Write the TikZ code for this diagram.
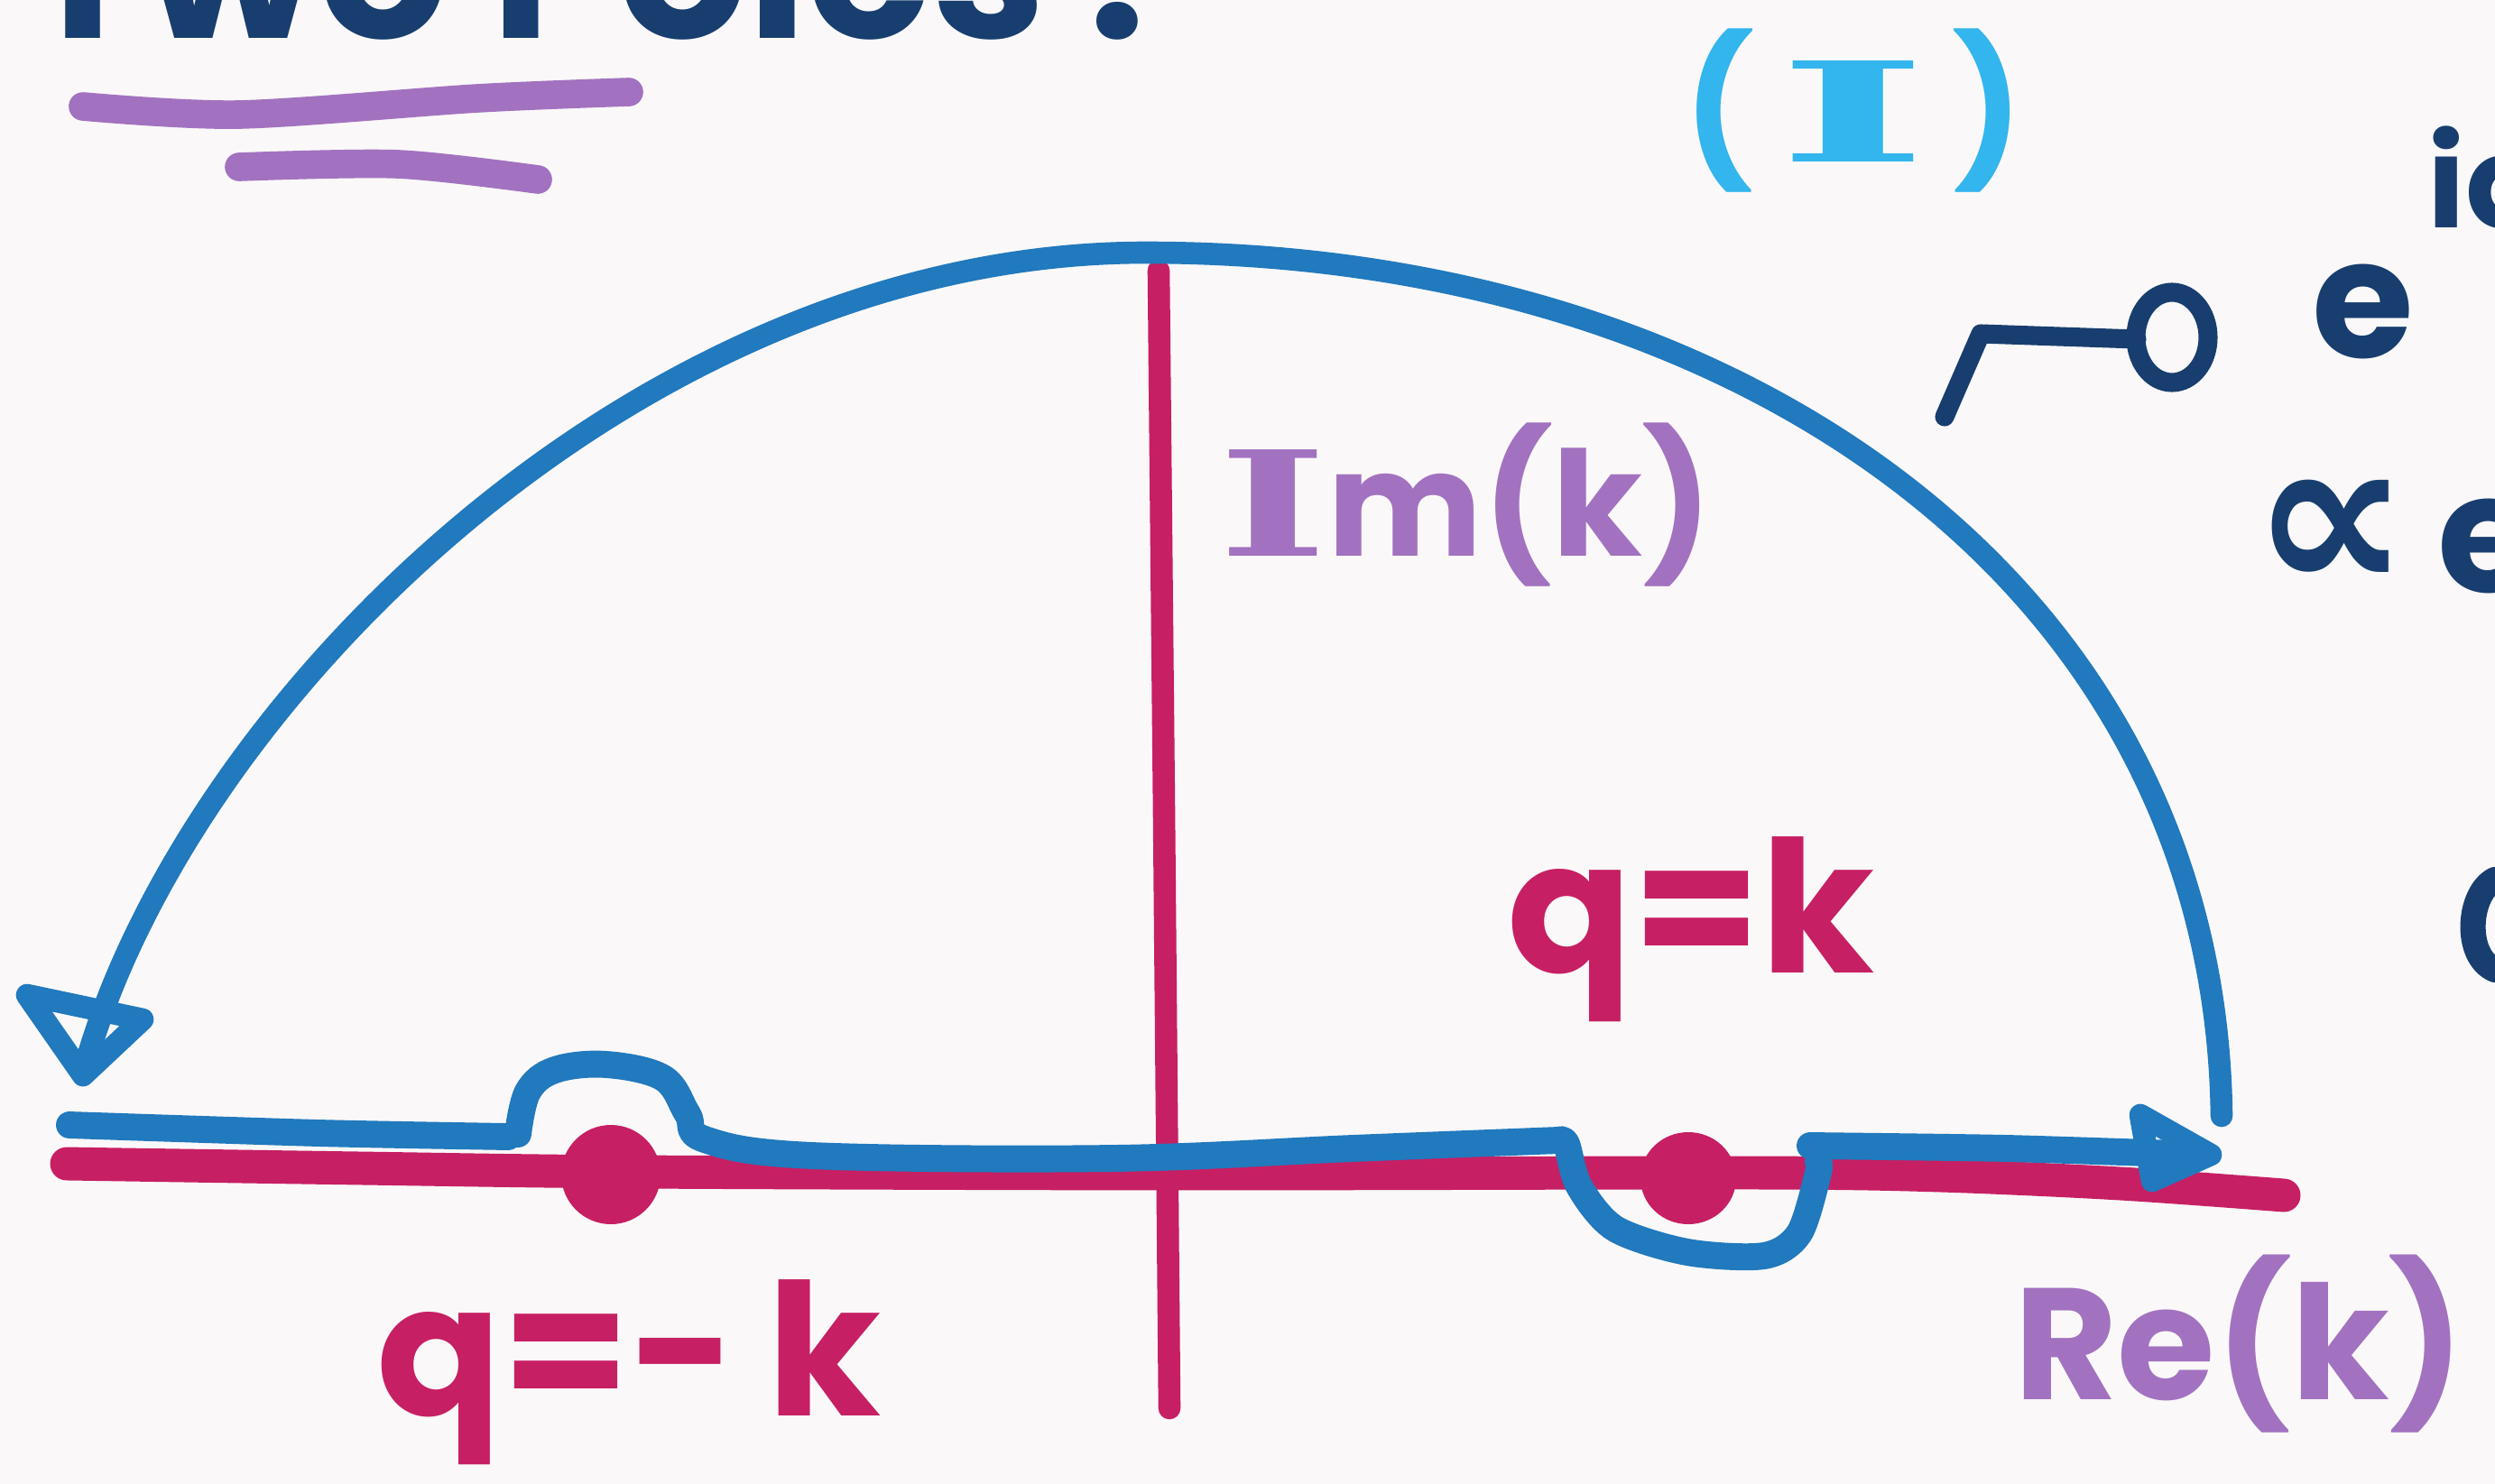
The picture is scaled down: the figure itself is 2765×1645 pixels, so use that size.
\documentclass[tikz,border=0pt]{standalone}
\usepackage{fontspec}
\setmainfont{Poppins}
\newfontfamily\dejavu{DejaVu Sans}
\newfontfamily\serifI{DejaVu Serif}
\definecolor{bgc}{HTML}{FAF8F8}
\definecolor{cblue}{HTML}{2179BE}
\definecolor{cred}{HTML}{C71F63}
\definecolor{cpurple}{HTML}{A272C0}
\definecolor{clight}{HTML}{33B5EE}
\definecolor{cnavy}{HTML}{183E6F}
\begin{document}
\begin{tikzpicture}[x=0.01cm,y=-0.01cm,line cap=round,line join=round,
  arcline/.style={cblue,line width=7pt},
  realline/.style={cblue,line width=8.5pt},
  haxis/.style={cred,line width=10.5pt},
  vaxis/.style={cred,line width=7pt},
  polept/.style={cred},
  tipbox/.style={cblue,line width=7pt},
  redlbl/.style={cred,inner sep=0pt,font=\bfseries\fontsize{58}{60}\selectfont},
  purlbl/.style={cpurple,inner sep=0pt,font=\bfseries\fontsize{50}{60}\selectfont},
  navylbl/.style={cnavy,inner sep=0pt,font=\bfseries\fontsize{52}{60}\selectfont},
  uline/.style={cpurple,line width=9pt}]
\useasboundingbox (0,0) rectangle (2765,1645);
\fill[bgc] (0,0) rectangle (2765,1645);
\clip (0,0) rectangle (2765,1645);

% title fragment and underlines
\node[navylbl,anchor=base west,font=\bfseries\fontsize{64}{70}\selectfont] (title) at (25,42) {Two Poles .};
\draw[uline] plot[smooth] coordinates {(92,118) (265,127) (529,109) (697,102)};
\draw[uline] plot[smooth] coordinates {(265,185) (441,182) (596,199)};

% axes
\draw[haxis] plot[smooth] coordinates {(74,1290) (400,1295) (706,1299) (1300,1301) (1940,1300) (2150,1303) (2350,1312) (2531,1325)};
\draw[vaxis] (1284,300) -- (1290,900) -- (1296,1561);

% poles
\fill[polept] (677,1302) ellipse [x radius=55, y radius=55];
\fill[polept] (1871,1306) ellipse [x radius=53, y radius=51];

% big semicircle arc
\draw[arcline] (2462,1237) .. controls (2455,650) and (1930,280) .. (1270,280)
               .. controls (700,280) and (200,790) .. (92,1190);
\draw[tipbox] (30,1103) -- (158,1130) -- (92,1192) -- cycle;

% real-axis path with indentations
\draw[realline] plot[smooth,tension=0.4] coordinates {(77,1247) (353,1256) (563,1260)};
\draw[realline] plot[smooth,tension=0.6] coordinates {(574,1257) (585,1210) (615,1186) (672,1180) (735,1195) (762,1235) (781,1263) (900,1281) (1234,1284) (1499,1273) (1727,1264)};
\draw[realline] plot[smooth,tension=0.5] coordinates {(1727,1264) (1736,1268) (1750,1315) (1790,1362) (1870,1388) (1955,1392) (1994,1367) (2015,1300) (2015,1288)};
\draw[realline] plot[smooth,tension=0.4] coordinates {(2006,1270) (2224,1273) (2440,1280)};
\draw[tipbox] (2372,1236) -- (2450,1280) -- (2385,1309) -- cycle;

% labels
\node[purlbl,anchor=west,font=\bfseries\fontsize{46}{50}\selectfont] (imk) at (1350,560) {{\serifI\scalebox{1.6}[1]{I}}m(k)};
\node[redlbl] (qk) at (1874,1030) {q=k};
\node[redlbl] (qmk) at (697,1521) {q=-\,k};
\node[purlbl] (rek) at (2482,1490) {Re(k)};
\node[clight,inner sep=0pt,font=\bfseries\fontsize{46}{50}\selectfont] (one) at (2054,123) {(\,{\serifI\scalebox{2.2}[0.95]{I}}\,)};

% right-side fragments
\draw[cnavy,line width=6pt] (2155,462) -- (2195,370) -- (2368,376);
\draw[cnavy,line width=6pt] (2407,374) ellipse [x radius=40, y radius=50];
\node[navylbl] (e1) at (2619,345) {e};
\node[navylbl,font=\bfseries\fontsize{40}{45}\selectfont,anchor=west] (ex1) at (2690,215) {iq};
\node[navylbl,anchor=west] (prop) at (2495,595) {{\dejavu\fontsize{70}{70}\selectfont ∝}\,e};
\draw[cnavy,line width=8pt] (2765,975) .. controls (2735,990) and (2730,1060) .. (2765,1075);
\end{tikzpicture}
\end{document}
